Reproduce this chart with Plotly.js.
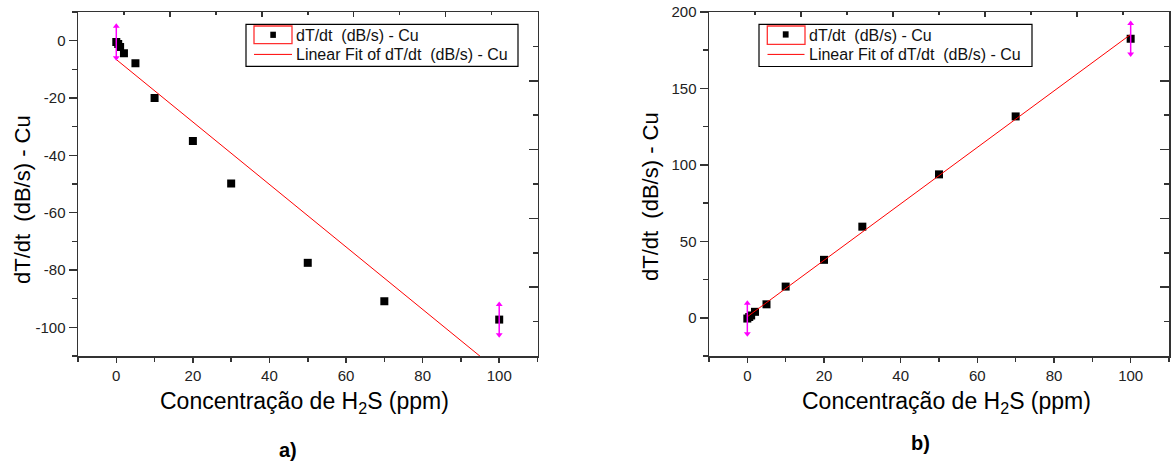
<!DOCTYPE html>
<html>
<head>
<meta charset="utf-8">
<script src="https://cdn.plot.ly/plotly-3.0.1.min.js"></script>
<style>
  html, body { margin: 0; padding: 0; background: #fff; }
  #chart { width: 1171px; height: 464px; }
</style>
</head>
<body>
<div id="chart"></div>
<script>
// ---- data ----
const concentration = [0, 0.5, 1, 2, 5, 10, 20, 30, 50, 70, 100];          // ppm H2S
const rateA = [-0.5, -1.2, -2.2, -4.4, -7.9, -20, -35, -49.8, -77.5, -90.9, -97.3]; // panel a
const rateB = [-0.5, 0.5, 1.5, 3.9, 8.8, 20.4, 37.9, 59.6, 93.8, 131.7, 182.5];     // panel b
const errA  = [5.5, 0, 0, 0, 0, 0, 0, 0, 0, 0, 5.3];
const errB  = [10, 0, 0, 0, 0, 0, 0, 0, 0, 0, 10];
const seriesName = 'dT/dt\u00A0 (dB/s) - Cu';
const fitName = 'Linear Fit of dT/dt\u00A0 (dB/s) - Cu';
const yTitle = 'dT/dt\u00A0 (dB/s) - Cu';
const xTitle = 'Concentração de H<sub>2</sub>S (ppm)';
const panelLabels = ['a)', 'b)'];

const FONT = 'Liberation Sans, Arial, sans-serif';
const W = 1171, H = 464, ML = 78, MR = 2, MT = 12, MB = 108;
const PW = W - ML - MR, PH = H - MT - MB;
const px = v => (v - ML) / PW;        // pixel x -> paper x
const py = v => 1 - (v - MT) / PH;    // pixel y -> paper y

function linfit(x, y) {
  const n = x.length;
  const mx = x.reduce((a, b) => a + b, 0) / n;
  const my = y.reduce((a, b) => a + b, 0) / n;
  let sxx = 0, sxy = 0;
  for (let i = 0; i < n; i++) { sxx += (x[i] - mx) ** 2; sxy += (x[i] - mx) * (y[i] - my); }
  const b = sxy / sxx, a = my - b * mx;
  const xs = [Math.min(...x), Math.max(...x)];
  return { x: xs, y: xs.map(v => a + b * v) };
}

function errTrace(x, y, e, xa, ya) {
  const xs = [], ys = [], sym = [];
  for (let i = 0; i < x.length; i++) {
    if (e[i] > 0) {
      xs.push(x[i], x[i], null);
      ys.push(y[i] - e[i], y[i] + e[i], null);
      sym.push('triangle-down', 'triangle-up', 'circle');
    }
  }
  return { x: xs, y: ys, xaxis: xa, yaxis: ya, mode: 'lines+markers', showlegend: false,
    line: { color: '#ff00ff', width: 1.5 }, connectgaps: false,
    marker: { symbol: sym, size: 6, color: '#ff00ff' }, hoverinfo: 'skip' };
}

function panelTraces(y, e, xa, ya) {
  const fit = linfit(concentration, y);
  return [
    { x: concentration, y: y, xaxis: xa, yaxis: ya, mode: 'markers', name: seriesName,
      marker: { symbol: 'square', size: 8, color: '#000' } },
    { x: fit.x, y: fit.y, xaxis: xa, yaxis: ya, mode: 'lines', name: fitName,
      line: { color: '#ff0000', width: 1 } },
    errTrace(concentration, y, e, xa, ya)
  ];
}

const traces = [
  ...panelTraces(rateA, errA, 'x', 'y'),
  ...panelTraces(rateB, errB, 'x2', 'y2'),
  { x: [], y: [], xaxis: 'x3', yaxis: 'y3', showlegend: false },
  { x: [], y: [], xaxis: 'x4', yaxis: 'y4', showlegend: false }
];

const AX = '#333';
const tickfont = { family: FONT, size: 15, color: '#222' };
function ticksFor(range, step) {
  const v = [];
  for (let t = Math.ceil(range[0] / step) * step; t <= range[1] + 1e-9; t += step) v.push(t);
  return v;
}
function xMain(domain, anchor) {
  return { domain: domain, anchor: anchor, range: [-10, 110], tick0: 0, dtick: 20,
    ticks: 'outside', ticklen: 5, tickwidth: 1.5, tickcolor: AX,
    minor: { dtick: 10, tick0: 0, ticks: 'outside', ticklen: 4, tickwidth: 1.5, tickcolor: AX },
    showline: true, linecolor: AX, linewidth: 1.5, showgrid: false, zeroline: false,
    tickfont: tickfont, fixedrange: true };
}
function yMain(range, dtick, anchor) {
  const tv = ticksFor(range, dtick);
  return { domain: [0, 1], anchor: anchor, range: range,
    tickmode: 'array', tickvals: tv, ticktext: tv.map(v => String(v)),
    ticks: 'outside', ticklen: 8, tickwidth: 1.5, tickcolor: AX,
    minor: { dtick: dtick / 2, tick0: 0, ticks: 'outside', ticklen: 5, tickwidth: 1.5, tickcolor: AX },
    showline: true, linecolor: AX, linewidth: 1.5, showgrid: false, zeroline: false,
    tickfont: tickfont, fixedrange: true };
}
function frameX(over, anchor) {
  return { overlaying: over, anchor: anchor, side: 'top', range: [0, 10], tick0: 0, dtick: 2,
    ticks: 'inside', ticklen: 5, tickwidth: 1.5, tickcolor: AX,
    minor: { dtick: 1, ticks: 'inside', ticklen: 3, tickwidth: 1.5, tickcolor: AX },
    showticklabels: false, showline: true, linecolor: AX, linewidth: 1.5,
    showgrid: false, zeroline: false, fixedrange: true };
}
function frameY(over, anchor) {
  return { overlaying: over, anchor: anchor, side: 'right', range: [0, 10], tick0: 0, dtick: 2,
    ticks: 'inside', ticklen: 9, tickwidth: 1.5, tickcolor: AX,
    minor: { dtick: 1, ticks: 'inside', ticklen: 5, tickwidth: 1.5, tickcolor: AX },
    showticklabels: false, showline: true, linecolor: AX, linewidth: 1.5,
    showgrid: false, zeroline: false, fixedrange: true };
}

// custom Origin-style legend boxes (pixel geometry -> paper)
function legendParts(box, hl, sq, line, textX, row1, row2) {
  const shapes = [
    { type: 'rect', xref: 'paper', yref: 'paper', x0: px(box[0]), x1: px(box[1]), y0: py(box[3]), y1: py(box[2]),
      line: { color: '#000', width: 1.2 }, fillcolor: 'rgba(0,0,0,0)' },
    { type: 'rect', xref: 'paper', yref: 'paper', x0: px(hl[0]), x1: px(hl[1]), y0: py(hl[3]), y1: py(hl[2]),
      line: { color: '#ff3030', width: 1.3 } },
    { type: 'rect', xref: 'paper', yref: 'paper', x0: px(sq[0]), x1: px(sq[1]), y0: py(sq[3]), y1: py(sq[2]),
      line: { width: 0 }, fillcolor: '#000' },
    { type: 'line', xref: 'paper', yref: 'paper', x0: px(line[0]), x1: px(line[1]), y0: py(line[2]), y1: py(line[2]),
      line: { color: '#ff0000', width: 1 } }
  ];
  const lf = { family: FONT, size: 16, color: '#111' };
  const anns = [
    { text: seriesName, xref: 'paper', yref: 'paper', x: px(textX), y: py(row1), xanchor: 'left', yanchor: 'middle',
      showarrow: false, font: lf, borderpad: 0 },
    { text: fitName, xref: 'paper', yref: 'paper', x: px(textX), y: py(row2), xanchor: 'left', yanchor: 'middle',
      showarrow: false, font: lf, borderpad: 0 }
  ];
  return { shapes, anns };
}
const legA = legendParts([246, 518, 24.3, 66.3], [254, 292, 26, 43.7], [270.3, 275.9, 31.7, 37.9], [254, 292, 54.4], 295, 35.3, 54.3);
const legB = legendParts([759, 1032, 24.3, 66.5], [767.3, 805, 26, 44.3], [782.8, 788.6, 31.3, 37.6], [767.5, 804.5, 54.4], 808, 35.3, 54.3);

const tf = { family: FONT, size: 23, color: '#000' };
const tfy = { family: FONT, size: 22, color: '#000' };
const layout = {
  width: W, height: H,
  margin: { l: ML, r: MR, t: MT, b: MB },
  paper_bgcolor: '#fff', plot_bgcolor: '#fff',
  font: { family: FONT, color: '#111' },
  showlegend: false,
  xaxis: xMain([0, px(537.5)], 'y'),
  yaxis: yMain([-110, 10], 20, 'x'),
  xaxis2: xMain([px(709), 1], 'y2'),
  yaxis2: yMain([-25, 200], 50, 'x2'),
  xaxis3: frameX('x', 'y3'),
  yaxis3: frameY('y', 'x3'),
  xaxis4: frameX('x2', 'y4'),
  yaxis4: frameY('y2', 'x4'),
  shapes: [...legA.shapes, ...legB.shapes],
  annotations: [
    ...legA.anns, ...legB.anns,
    { text: yTitle, xref: 'paper', yref: 'paper', x: px(22), y: py(200), textangle: -90,
      showarrow: false, xanchor: 'center', yanchor: 'middle', font: tfy },
    { text: yTitle, xref: 'paper', yref: 'paper', x: px(651), y: py(197), textangle: -90,
      showarrow: false, xanchor: 'center', yanchor: 'middle', font: tfy },
    { text: xTitle, xref: 'paper', yref: 'paper', x: px(304), y: py(402.5),
      showarrow: false, xanchor: 'center', yanchor: 'middle', font: tf },
    { text: xTitle, xref: 'paper', yref: 'paper', x: px(946.5), y: py(402.5),
      showarrow: false, xanchor: 'center', yanchor: 'middle', font: tf },
    { text: '<b>' + panelLabels[0] + '</b>', xref: 'paper', yref: 'paper', x: px(287.7), y: py(450),
      showarrow: false, xanchor: 'center', yanchor: 'middle', font: { family: FONT, size: 20, color: '#000' } },
    { text: '<b>' + panelLabels[1] + '</b>', xref: 'paper', yref: 'paper', x: px(920), y: py(443.5),
      showarrow: false, xanchor: 'center', yanchor: 'middle', font: { family: FONT, size: 20, color: '#000' } }
  ]
};

Plotly.newPlot('chart', traces, layout, { staticPlot: true, displayModeBar: false });
</script>
</body>
</html>
